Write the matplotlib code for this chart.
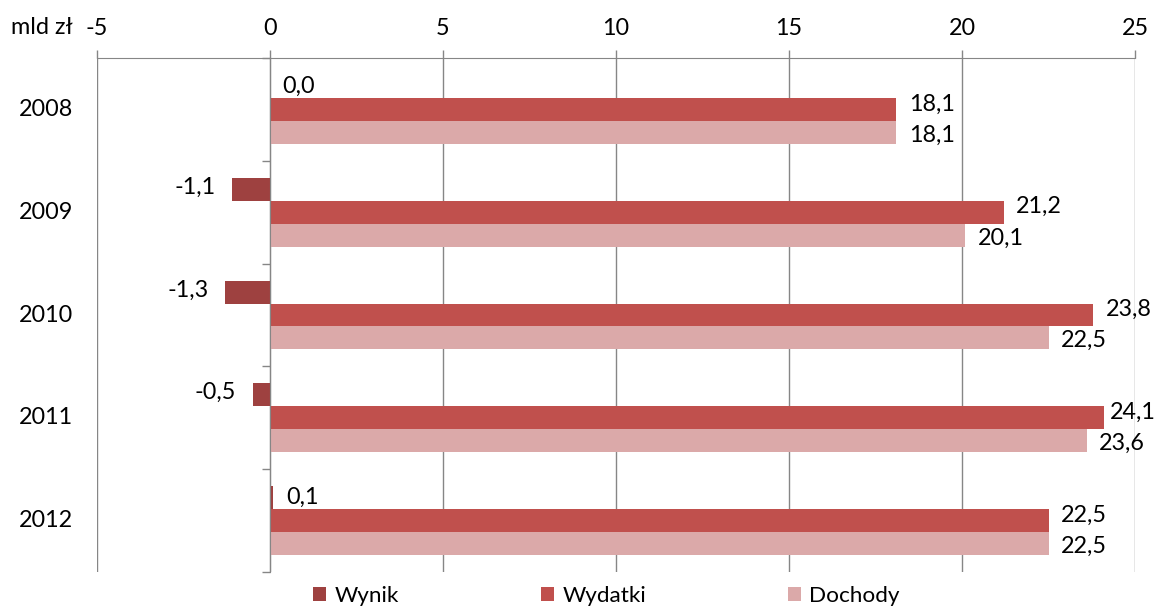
import matplotlib
matplotlib.use("Agg")
import matplotlib.pyplot as plt
import numpy as np
from matplotlib.transforms import blended_transform_factory
from matplotlib.patches import Patch

years = ["2008", "2009", "2010", "2011", "2012"]
wynik = [0.0, -1.1, -1.3, -0.5, 0.1]
wydatki = [18.1, 21.2, 23.8, 24.1, 22.5]
dochody = [18.1, 20.1, 22.5, 23.6, 22.5]
series_names = ["Wynik", "Wydatki", "Dochody"]
x_ticks = [-5, 0, 5, 10, 15, 20, 25]

colors = ["#9E4140", "#C0504D", "#DBA9A9"]
plt.rcParams['font.family'] = ['Lato', 'DejaVu Sans']
FS = 16.8

W, H = 1159, 606
fig = plt.figure(figsize=(W / 100, H / 100), dpi=100)
L, R, T, B = 97, 1135, 58, 572
ax = fig.add_axes([L / W, 1 - B / H, (R - L) / W, (B - T) / H])

y = np.arange(len(years))
h = 0.223
grid_c = "#868686"
v_shift = [0, 4, -2]

labels = []
for i, (vals, c) in enumerate(zip([wynik, wydatki, dochody], colors)):
    pos = y + (i - 1) * h
    ax.barh(pos, vals, height=h, color=c, zorder=3)
    for p, v in zip(pos, vals):
        txt = f"{v:.1f}".replace(".", ",")
        if v < 0:
            a = ax.annotate(txt, (v, p), xytext=(-12, 1.5), textcoords="offset points",
                            ha="right", va="center", fontsize=FS, zorder=4)
        else:
            a = ax.annotate(txt, (v, p), xytext=(9, v_shift[i]), textcoords="offset points",
                            ha="left", va="center", fontsize=FS, zorder=4)
        labels.append(a)

ax.set_xlim(-5, 25)
ax.set_ylim(len(years) - 0.5, -0.5)
ax.set_xticks(x_ticks)
ax.set_xticklabels([str(t) for t in x_ticks], fontsize=FS)
ax.xaxis.tick_top()
ax.tick_params(axis="x", which="major", length=6, width=1, color=grid_c, pad=8)
ax.grid(axis="x", color=grid_c, linewidth=1, zorder=0)

for s in ["bottom", "right"]:
    ax.spines[s].set_visible(False)
ax.spines["top"].set_color(grid_c)
ax.spines["left"].set_position(("data", 0))
ax.spines["left"].set_color(grid_c)
ax.spines["left"].set_zorder(5)

ax.set_yticks(np.arange(-0.5, len(years), 1.0))
ax.set_yticklabels([])
ax.tick_params(axis="y", length=6, width=1, color=grid_c, direction="out")

tr = blended_transform_factory(ax.transAxes, ax.transData)
for yi, lab in zip(y, years):
    ax.text(-24 / (R - L), yi, lab, transform=tr, ha="right", va="center", fontsize=FS)

fig.text(73 / W, 1 - 28 / H, "mld zł", ha="right", va="center", fontsize=FS)

handles = [Patch(facecolor=c, edgecolor="none") for c in colors]
fig.legend(handles, series_names, loc="center left",
           bbox_to_anchor=(313 / W, 1 - 596 / H), ncol=3, frameon=False,
           fontsize=16.2, handlelength=0.58, handleheight=0.58, handletextpad=0.38,
           columnspacing=6.3, borderpad=0, borderaxespad=0)

# keep data labels inside the figure (as the reference does by nudging them)
fig.canvas.draw()
rend = fig.canvas.get_renderer()
for a in labels:
    bb = a.get_window_extent(rend)
    over = bb.x1 - (W - 3)
    if over > 0:
        ox, oy = a.xyann
        a.xyann = (ox - over * 72 / 100, oy)

fig.savefig("out.png", dpi=100)
